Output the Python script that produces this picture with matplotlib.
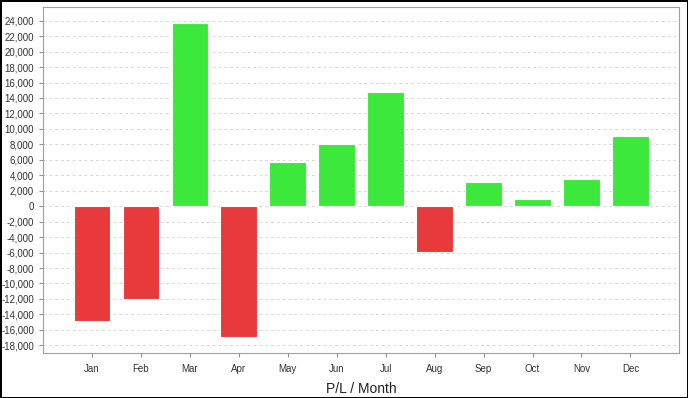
import matplotlib
matplotlib.use('Agg')
import matplotlib.pyplot as plt
import matplotlib.ticker as mticker
import numpy as np

plt.rcParams['font.family'] = ['Liberation Sans', 'DejaVu Sans']

months = ['Jan', 'Feb', 'Mar', 'Apr', 'May', 'Jun',
          'Jul', 'Aug', 'Sep', 'Oct', 'Nov', 'Dec']
pnl = [-14850, -12050, 23700, -16950, 5750, 8000,
       14750, -5900, 3080, 870, 3500, 9050]

red = '#e8393d'
green = '#3de83d'
colors = [green if v >= 0 else red for v in pnl]

fig = plt.figure(figsize=(6.88, 3.98), dpi=100, linewidth=2, edgecolor='black')
ax = fig.add_axes([0.0625, 0.113, 0.925, 0.869])

x = np.arange(len(months))
ax.bar(x, pnl, width=0.75, color=colors, edgecolor='#f4fff4', linewidth=0.8, zorder=3)

ax.set_xlim(-1, len(months))
ax.set_ylim(-19000, 25750)
ax.set_xticks(x)
ax.set_xticklabels(months)
ax.yaxis.set_major_locator(mticker.MultipleLocator(2000))
ax.yaxis.set_major_formatter(mticker.FuncFormatter(lambda v, p: f'{int(v):,}'))

ax.grid(axis='y', linestyle=(0, (3, 3)), color='#d8d8d8', linewidth=0.7, zorder=0)
for s in ax.spines.values():
    s.set_color('#a0a0a0')
ax.tick_params(labelsize=7, colors='#333333', length=3, width=0.8)
ax.tick_params(axis='both', color='#909090')
ax.tick_params(axis='x', pad=5)

ax.set_xlabel('P/L / Month', fontsize=10, color='#222222', labelpad=6)

fig.savefig('out.png', dpi=100)
